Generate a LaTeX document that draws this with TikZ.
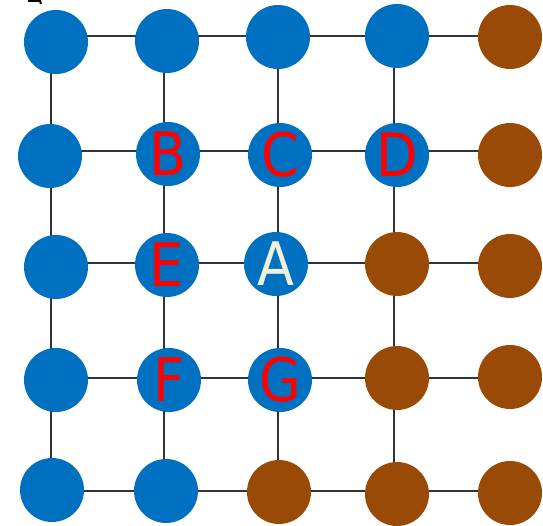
\documentclass[tikz,border=0pt]{standalone}
\usepackage{fontspec}
\setmainfont{DejaVu Sans Condensed}
\usetikzlibrary{positioning}

\definecolor{siteblue}{RGB}{0,112,192}
\definecolor{sitebrown}{RGB}{153,74,6}
\definecolor{labelred}{RGB}{255,0,0}
\definecolor{labelpale}{RGB}{240,240,222}

\begin{document}
\begin{tikzpicture}[x=1pt,y=-1pt,
  site/.style={circle,minimum size=64pt,inner sep=0pt,fill=#1},
  lab/.style={font=\fontsize{60}{60}\selectfont,text=#1},
  bond/.style={line width=1.3pt,black!80}]
\useasboundingbox (0,0) rectangle (543,526);
% lattice points
\foreach \c/\x in {1/51,2/164,3/278,4/394,5/510}
  \foreach \r/\y in {1/36,2/151,3/263,4/378,5/491}
    \coordinate (g\r\c) at (\x,\y);
\foreach \r in {1,...,5}
  \draw [bond] (g\r1) -- (g\r5);
\foreach \c in {1,...,4}
  \draw [bond] (g1\c) -- (g5\c);
% cut-off mark at the top
\draw [line width=2pt] (28,1) -- (40,1) -- (41,4);

% plain sites
\foreach \n/\x/\y/\col in {11/56/42/siteblue,12/167/41/siteblue,13/278/37/siteblue,
  14/397/36/siteblue,15/510/37/sitebrown,21/50/156/siteblue,25/510/155/sitebrown,
  31/56/267/siteblue,34/397/264/sitebrown,35/510/266/sitebrown,41/56/380/siteblue,
  44/397/378/sitebrown,45/510/377/sitebrown,51/52/490/siteblue,52/166/491/siteblue,
  53/279/492/sitebrown,54/397/494/sitebrown,55/510/493/sitebrown}
  \node [site=\col] (s\n) at (\x,\y) {};

% labelled sites
\foreach \n/\x/\y/\t/\tc in {22/168/154/B/labelred,23/280/155/C/labelred,
  24/397/155/D/labelred,32/167/265/E/labelred,33/276/264/A/labelpale,
  42/169/380/F/labelred,43/280/380/G/labelred}
  \node [site=siteblue,lab=\tc] (s\n) at (\x,\y) {\t};
\end{tikzpicture}
\end{document}
